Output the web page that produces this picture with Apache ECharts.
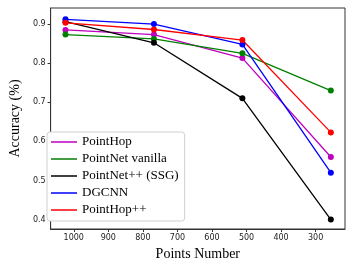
<!DOCTYPE html>
<html><head><meta charset="utf-8">
<script src="https://cdn.jsdelivr.net/npm/echarts@6/dist/echarts.min.js"></script>
<style>html,body{margin:0;padding:0;background:#fff}#c{width:354px;height:266px}</style>
</head><body><div id="c"></div>
<script>
const points = [1024, 768, 512, 256];
const xTicks = [1000, 900, 800, 700, 600, 500, 400, 300];
const yTicks = [0.4, 0.5, 0.6, 0.7, 0.8, 0.9];
const names = ['PointHop', 'PointNet vanilla', 'PointNet++ (SSG)', 'DGCNN', 'PointHop++'];
const pointHop = [0.885, 0.873, 0.813, 0.560];
const pointNetVanilla = [0.873, 0.862, 0.825, 0.730];
const pointNetPP = [0.906, 0.852, 0.710, 0.400];
const dgcnn = [0.912, 0.900, 0.848, 0.520];
const pointHopPP = [0.903, 0.886, 0.859, 0.623];
const colors = ['#bf00bf', '#008000', '#000000', '#0000ff', '#ff0000'];
const allData = [pointHop, pointNetVanilla, pointNetPP, dgcnn, pointHopPP];

const chart = echarts.init(document.getElementById('c'));
chart.setOption({
  animation: false,
  grid: {left: 40, right: 9, top: 8, bottom: 37, show: true, borderColor: '#333', borderWidth: 1},
  xAxis: {
    type: 'value', inverse: true, min: 215, max: 1067,
    name: 'Points Number', nameLocation: 'middle', nameGap: 13,
    nameTextStyle: {fontFamily: 'Liberation Serif', fontSize: 14, color: '#000'},
    axisLine: {show: true, lineStyle: {color: '#333'}},
    axisTick: {show: true, length: 3, customValues: xTicks, lineStyle: {color: '#333'}},
    axisLabel: {customValues: xTicks, fontFamily: 'DejaVu Sans', fontSize: 8, color: '#222', margin: 5,
      formatter: v => String(v)},
    splitLine: {show: false}
  },
  yAxis: {
    type: 'value', min: 0.376, max: 0.941,
    name: 'Accuracy (%)', nameLocation: 'middle', nameGap: 19,
    nameTextStyle: {fontFamily: 'Liberation Serif', fontSize: 14, color: '#000'},
    axisLine: {show: true, lineStyle: {color: '#333'}},
    axisTick: {show: true, length: 3, customValues: yTicks, lineStyle: {color: '#333'}},
    axisLabel: {customValues: yTicks, fontFamily: 'DejaVu Sans', fontSize: 8, color: '#222', margin: 5,
      formatter: v => v.toFixed(1)},
    splitLine: {show: false}
  },
  legend: {
    orient: 'vertical', left: 47, top: 132,
    data: names,
    icon: 'rect', itemWidth: 26, itemHeight: 1.5, itemGap: 3, itemTextGap: 9,
    padding: [3, 6, 4, 4],
    backgroundColor: '#fff', borderColor: '#d0d0d0', borderWidth: 1, borderRadius: 3,
    textStyle: {fontFamily: 'Liberation Serif', fontSize: 13, color: '#000', lineHeight: 14}
  },
  series: names.map((n, i) => ({
    name: n, type: 'line',
    data: points.map((p, j) => [p, allData[i][j]]),
    color: colors[i],
    lineStyle: {width: 1.3, color: colors[i]},
    itemStyle: {color: colors[i]},
    symbol: 'circle', symbolSize: 6, showSymbol: true
  }))
});
</script></body></html>
